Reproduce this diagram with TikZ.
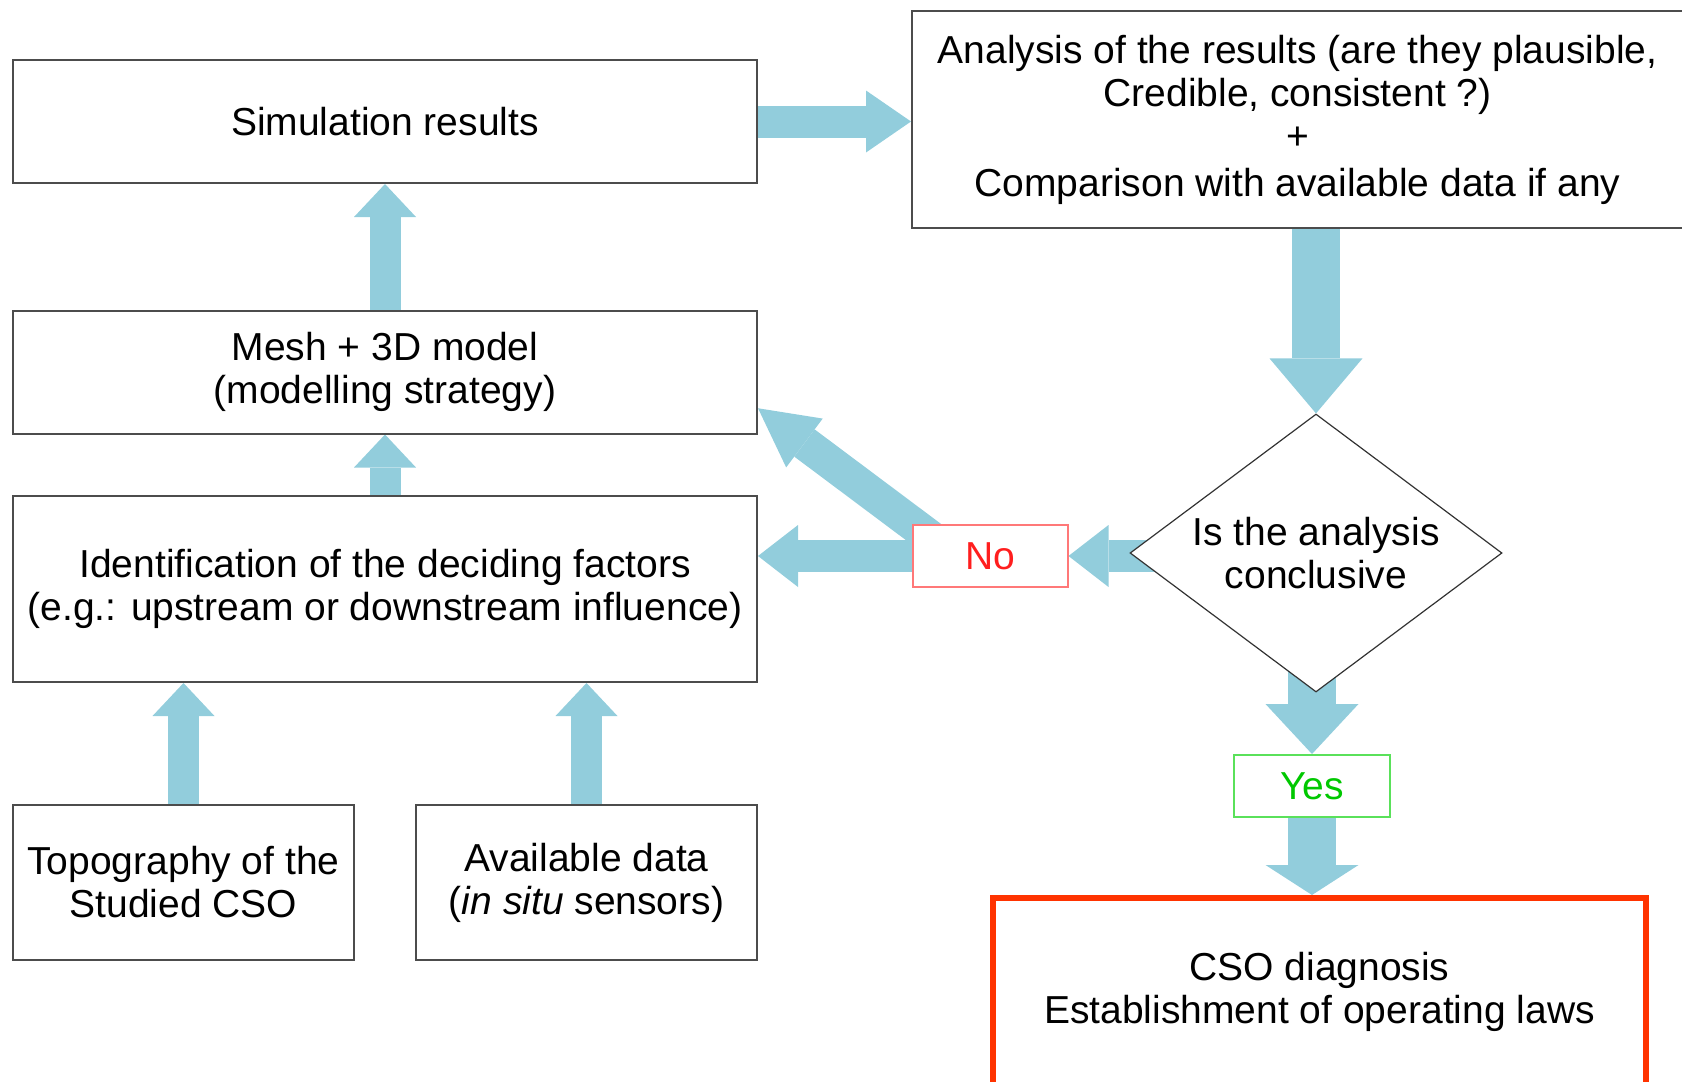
\documentclass[tikz,border=0pt]{standalone}
\usepackage{fontspec}
\setmainfont{Liberation Sans}
\usepackage{tikz}
\usetikzlibrary{arrows.meta, shapes.geometric, backgrounds, calc}

\definecolor{arrowblue}{RGB}{146,205,220}
\definecolor{nored}{RGB}{255,30,30}
\definecolor{noedge}{RGB}{255,120,120}
\definecolor{yesgreen}{RGB}{0,200,0}
\definecolor{yesedge}{RGB}{90,225,90}
\definecolor{csored}{RGB}{255,51,0}

\tikzset{
	box/.style={draw=black!70, line width=1pt, fill=white, align=center, inner sep=0pt,
		font=\fontsize{19.5pt}{21.5pt}\selectfont},
	fat/.style n args={3}{draw=arrowblue, line width=#1,
		-{Triangle[width=#2, length=#3, line width=0pt]}}
}

\begin{document}
\begin{tikzpicture}[x=0.5pt, y=-0.5pt]
			\useasboundingbox (0,0) rectangle (1682,1082);

			% Colonne de gauche
			\node[box, minimum width=372pt, minimum height=61.5pt] (sim) at (385, 121.5) {Simulation results};
			\node[box, minimum width=372pt, minimum height=61.5pt] (mesh) at (385, 372) {Mesh + 3D model\\(modelling strategy)};
			\node[box, minimum width=372pt, minimum height=93pt] (ident) at (385, 589) {Identification of the deciding factors\\(e.g.: upstream or downstream influence)};
			\node[box, minimum width=170.5pt, minimum height=77.5pt] (topo) at (183.5, 882.5) {Topography of the\\Studied CSO};
			\node[box, minimum width=170.5pt, minimum height=77.5pt] (avail) at (586.5, 882.5) {Available data\\(\textit{in situ} sensors)};

			% Colonne de droite
			\node[box, minimum width=385.5pt, minimum height=108.5pt] (ana) at (1297.5, 119.5) {Analysis of the results (are they plausible,\\Credible, consistent ?)\\+\\[2pt]Comparison with available data if any};
			\node[box, diamond, draw=black!80, line width=0.6pt, aspect=1.34, minimum width=186pt, minimum height=139pt] (dia) at (1316, 553) {Is the analysis\\conclusive};
			\node[box, draw=noedge, text=nored, minimum width=77.5pt, minimum height=31pt] (no) at (990, 556) {No};
			\node[box, draw=yesedge, text=yesgreen, minimum width=78pt, minimum height=31pt] (yes) at (1312, 786) {Yes};
			\node[box, draw=csored, line width=3pt, minimum width=326.5pt, minimum height=94pt] (cso) at (1319.5, 992) {CSO diagnosis\\Establishment of operating laws};

			% Fleches
			\begin{scope}[on background layer]
				\draw[fat={16pt}{31pt}{22.5pt}] (sim.east) -- (sim.east -| ana.west);
				\draw[fat={24pt}{46.5pt}{27.5pt}] (dia.north |- ana.south) -- (dia.north);
				\draw[fat={15.5pt}{31pt}{16.5pt}] (mesh.north) -- (sim.south);
				\draw[fat={15.5pt}{31pt}{16.5pt}] (ident.north) -- (mesh.south);
				\draw[fat={15.5pt}{31pt}{16.5pt}] (topo.north) -- (topo.north |- ident.south);
				\draw[fat={15.5pt}{31pt}{16.5pt}] (avail.north) -- (avail.north |- ident.south);
				\draw[fat={16pt}{31pt}{20pt}] (dia.center |- no.east) -- (no.east);
				\draw[fat={16pt}{31pt}{20pt}] (no.west) -- (no.west -| ident.east);
				\draw[fat={17pt}{30.5pt}{29pt}] ($(no.north west)+(28,20)$) -- ($(mesh.south east)!0.21!(mesh.north east)$);
				\draw[fat={24pt}{46.5pt}{25pt}] (yes.north |- dia.center) -- (yes.north);
				\draw[fat={24pt}{46.5pt}{15pt}] (yes.south) -- (yes.south |- cso.north);
			\end{scope}
		\end{tikzpicture}
\end{document}
